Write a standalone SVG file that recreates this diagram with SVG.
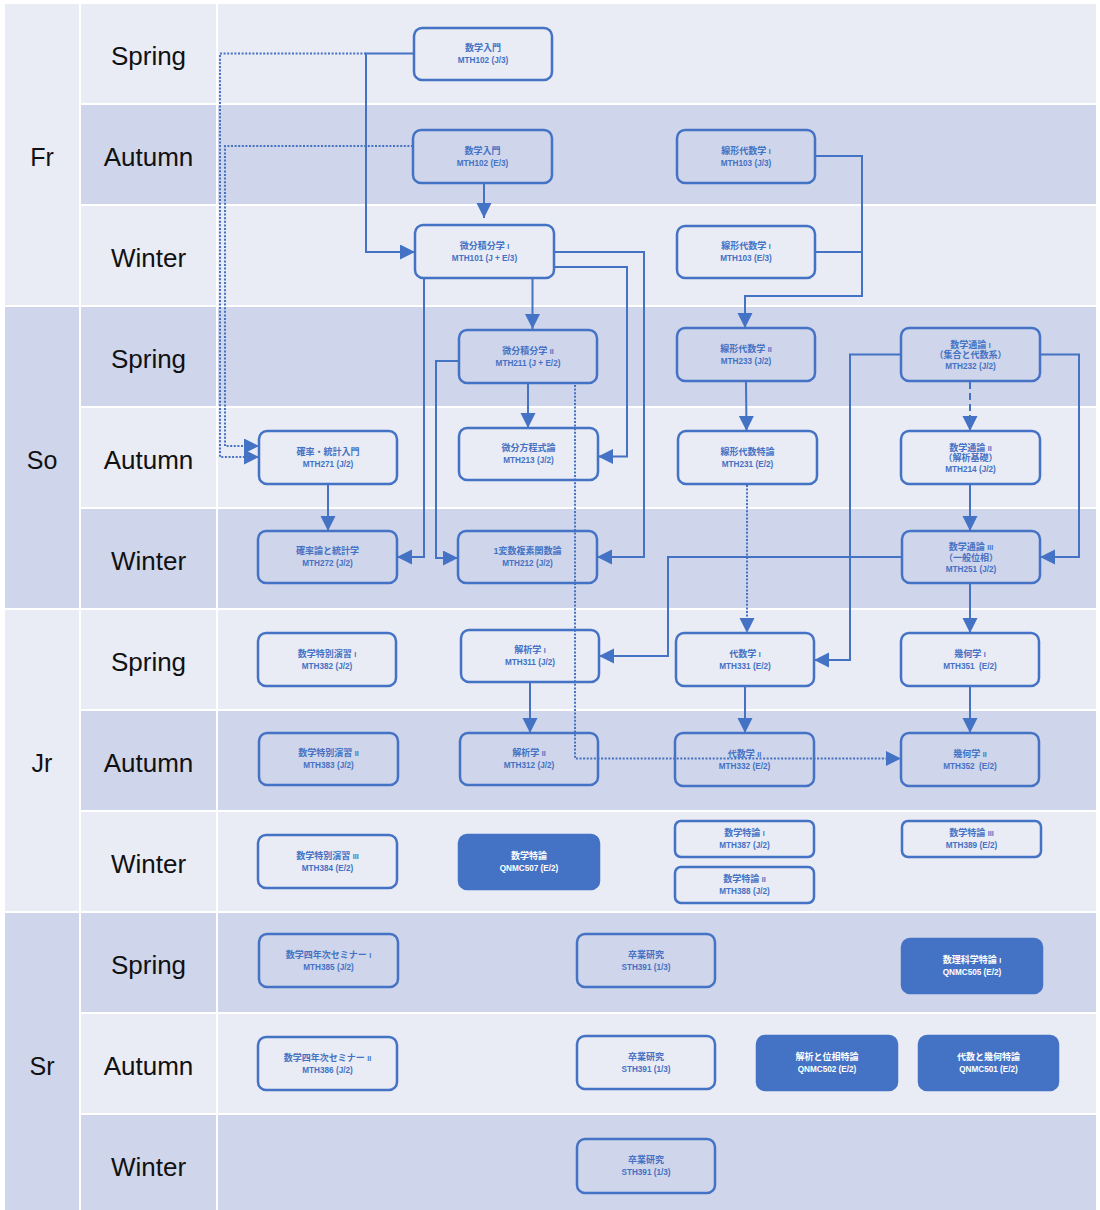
<svg xmlns="http://www.w3.org/2000/svg" width="1100" height="1210" viewBox="0 0 1100 1210">
<style>
.lt{fill:#E9EBF5}
.dk{fill:#CFD5EA}
.lbl{font-family:"Liberation Sans","Noto Sans",sans-serif;font-size:26px;fill:#111;text-anchor:middle}
.yr{font-size:25px}
.nd rect{fill:none;stroke:#4472C4;stroke-width:2.5}
.nf rect{fill:#4472C4;stroke:#4472C4;stroke-width:2.5}
.nd text,.nf text{font-family:"Liberation Sans","Noto Sans CJK JP",sans-serif;font-weight:bold;text-anchor:middle}
.nd text{fill:#4472C4}
.nf text{fill:#FFFFFF}
.t{font-size:9px}
.c{font-size:8.2px}
.rn{font-size:7px}
.cn{fill:none;stroke:#4472C4;stroke-width:2;marker-end:url(#ah)}
.nm{marker-end:none}
.dot{stroke-dasharray:2 1.6}
.dash{stroke-dasharray:7 4}
</style>
<defs>
<marker id="ah" markerWidth="16" markerHeight="16" refX="15" refY="7.5" orient="auto" markerUnits="userSpaceOnUse">
<path d="M0,0 L15,7.5 L0,15 z" fill="#4472C4"/>
</marker>
</defs>
<rect width="1100" height="1210" fill="#FFFFFF"/>
<g id="grid">
<rect class="lt" x="5" y="4" width="74" height="301"/>
<rect class="dk" x="5" y="307" width="74" height="301"/>
<rect class="lt" x="5" y="610" width="74" height="301"/>
<rect class="dk" x="5" y="913" width="74" height="297"/>
<rect class="lt" x="81" y="4" width="135" height="99"/><rect class="lt" x="218" y="4" width="878" height="99"/>
<rect class="dk" x="81" y="105" width="135" height="99"/><rect class="dk" x="218" y="105" width="878" height="99"/>
<rect class="lt" x="81" y="206" width="135" height="99"/><rect class="lt" x="218" y="206" width="878" height="99"/>
<rect class="dk" x="81" y="307" width="135" height="99"/><rect class="dk" x="218" y="307" width="878" height="99"/>
<rect class="lt" x="81" y="408" width="135" height="99"/><rect class="lt" x="218" y="408" width="878" height="99"/>
<rect class="dk" x="81" y="509" width="135" height="99"/><rect class="dk" x="218" y="509" width="878" height="99"/>
<rect class="lt" x="81" y="610" width="135" height="99"/><rect class="lt" x="218" y="610" width="878" height="99"/>
<rect class="dk" x="81" y="711" width="135" height="99"/><rect class="dk" x="218" y="711" width="878" height="99"/>
<rect class="lt" x="81" y="812" width="135" height="99"/><rect class="lt" x="218" y="812" width="878" height="99"/>
<rect class="dk" x="81" y="913" width="135" height="99"/><rect class="dk" x="218" y="913" width="878" height="99"/>
<rect class="lt" x="81" y="1014" width="135" height="99"/><rect class="lt" x="218" y="1014" width="878" height="99"/>
<rect class="dk" x="81" y="1115" width="135" height="95"/><rect class="dk" x="218" y="1115" width="878" height="95"/>
<text class="lbl yr" x="42" y="166">Fr</text>
<text class="lbl yr" x="42" y="469">So</text>
<text class="lbl yr" x="42" y="772">Jr</text>
<text class="lbl yr" x="42" y="1075">Sr</text>
<text class="lbl" x="148.5" y="65">Spring</text>
<text class="lbl" x="148.5" y="166">Autumn</text>
<text class="lbl" x="148.5" y="267">Winter</text>
<text class="lbl" x="148.5" y="368">Spring</text>
<text class="lbl" x="148.5" y="469">Autumn</text>
<text class="lbl" x="148.5" y="570">Winter</text>
<text class="lbl" x="148.5" y="671">Spring</text>
<text class="lbl" x="148.5" y="772">Autumn</text>
<text class="lbl" x="148.5" y="873">Winter</text>
<text class="lbl" x="148.5" y="974">Spring</text>
<text class="lbl" x="148.5" y="1075">Autumn</text>
<text class="lbl" x="148.5" y="1176">Winter</text>
</g>
<g id="connectors">
<polyline class="cn" points="414,53.5 366,53.5 366,252 415,252"/>
<polyline class="cn dot" points="366,53.5 220,53.5 220,457 259,457"/>
<polyline class="cn dot" points="413,146 225,146 225,446 259,446"/>
<polyline class="cn" points="484,183 484,218"/>
<polyline class="cn" points="554,252 644,252 644,557 597,557"/>
<polyline class="cn" points="554,267 627,267 627,456.5 598,456.5"/>
<polyline class="cn" points="424,278 424,557 397,557"/>
<polyline class="cn" points="532.5,278 532.5,329"/>
<polyline class="cn" points="459,361 436,361 436,558 458,558"/>
<polyline class="cn" points="528,383 528,428"/>
<polyline class="cn dot" points="575,385 575,758.5 901,758.5"/>
<polyline class="cn" points="815,156 862,156 862,296 745,296 745,328"/>
<polyline class="cn nm" points="815,252 862,252"/>
<polyline class="cn" points="746,381 746.5,431"/>
<polyline class="cn dot" points="747,485 747,633"/>
<polyline class="cn" points="1040,354.5 1079,354.5 1079,557 1040,557"/>
<polyline class="cn" points="901,354.5 850,354.5 850,660 814,660"/>
<polyline class="cn dash" points="970,382 970,431"/>
<polyline class="cn" points="970,484 970,531"/>
<polyline class="cn" points="902,557 668,557 668,656 599,656"/>
<polyline class="cn" points="970,583 970,633"/>
<polyline class="cn" points="328,484 328,531"/>
<polyline class="cn" points="530,682 530,733"/>
<polyline class="cn" points="745,686 745,733"/>
<polyline class="cn" points="970,686 970,733"/>
</g>
<g id="n1" class="nd"><rect x="414" y="28" width="138" height="52" rx="8"/><text class="t" x="483" y="51">数学入門</text><text class="c" x="483" y="63">MTH102 (J/3)</text></g>
<g id="n2" class="nd"><rect x="413" y="130" width="139" height="53" rx="8"/><text class="t" x="482.5" y="153.5">数学入門</text><text class="c" x="482.5" y="165.5">MTH102 (E/3)</text></g>
<g id="n3" class="nd"><rect x="677" y="130" width="138" height="53" rx="8"/><text class="t" x="746" y="153.5">線形代数学 <tspan class="rn">I</tspan></text><text class="c" x="746" y="165.5">MTH103 (J/3)</text></g>
<g id="n4" class="nd"><rect x="415" y="225" width="139" height="53" rx="8"/><text class="t" x="484.5" y="248.5">微分積分学 <tspan class="rn">I</tspan></text><text class="c" x="484.5" y="260.5">MTH101 (J + E/3)</text></g>
<g id="n5" class="nd"><rect x="677" y="226" width="138" height="52" rx="8"/><text class="t" x="746" y="249">線形代数学 <tspan class="rn">I</tspan></text><text class="c" x="746" y="261">MTH103 (E/3)</text></g>
<g id="n6" class="nd"><rect x="459" y="330" width="138" height="53" rx="8"/><text class="t" x="528" y="353.5">微分積分学 <tspan class="rn">II</tspan></text><text class="c" x="528" y="365.5">MTH211 (J + E/2)</text></g>
<g id="n7" class="nd"><rect x="677" y="328" width="138" height="53" rx="8"/><text class="t" x="746" y="351.5">線形代数学 <tspan class="rn">II</tspan></text><text class="c" x="746" y="363.5">MTH233 (J/2)</text></g>
<g id="n8" class="nd"><rect x="901" y="328" width="139" height="53" rx="8"/><text class="t" x="970.5" y="347.5">数学通論 <tspan class="rn">I</tspan></text><text class="t" x="970.5" y="358">（集合と代数系）</text><text class="c" x="970.5" y="369">MTH232 (J/2)</text></g>
<g id="n9" class="nd"><rect x="259" y="431" width="138" height="53" rx="8"/><text class="t" x="328" y="454.5">確率・統計入門</text><text class="c" x="328" y="466.5">MTH271 (J/2)</text></g>
<g id="n10" class="nd"><rect x="459" y="428" width="139" height="52" rx="8"/><text class="t" x="528.5" y="451">微分方程式論</text><text class="c" x="528.5" y="463">MTH213 (J/2)</text></g>
<g id="n11" class="nd"><rect x="678" y="431" width="139" height="53" rx="8"/><text class="t" x="747.5" y="454.5">線形代数特論</text><text class="c" x="747.5" y="466.5">MTH231 (E/2)</text></g>
<g id="n12" class="nd"><rect x="901" y="431" width="139" height="53" rx="8"/><text class="t" x="970.5" y="450.5">数学通論 <tspan class="rn">II</tspan></text><text class="t" x="970.5" y="461">（解析基礎）</text><text class="c" x="970.5" y="472">MTH214 (J/2)</text></g>
<g id="n13" class="nd"><rect x="258" y="531" width="139" height="52" rx="8"/><text class="t" x="327.5" y="554">確率論と統計学</text><text class="c" x="327.5" y="566">MTH272 (J/2)</text></g>
<g id="n14" class="nd"><rect x="458" y="531" width="139" height="52" rx="8"/><text class="t" x="527.5" y="554">1変数複素関数論</text><text class="c" x="527.5" y="566">MTH212 (J/2)</text></g>
<g id="n15" class="nd"><rect x="902" y="531" width="138" height="52" rx="8"/><text class="t" x="971" y="550">数学通論 <tspan class="rn">III</tspan></text><text class="t" x="971" y="560.5">（一般位相）</text><text class="c" x="971" y="571.5">MTH251 (J/2)</text></g>
<g id="n16" class="nd"><rect x="258" y="633" width="138" height="53" rx="8"/><text class="t" x="327" y="656.5">数学特別演習 <tspan class="rn">I</tspan></text><text class="c" x="327" y="668.5">MTH382 (J/2)</text></g>
<g id="n17" class="nd"><rect x="461" y="630" width="138" height="52" rx="8"/><text class="t" x="530" y="653">解析学 <tspan class="rn">I</tspan></text><text class="c" x="530" y="665">MTH311 (J/2)</text></g>
<g id="n18" class="nd"><rect x="676" y="633" width="138" height="53" rx="8"/><text class="t" x="745" y="656.5">代数学 <tspan class="rn">I</tspan></text><text class="c" x="745" y="668.5">MTH331 (E/2)</text></g>
<g id="n19" class="nd"><rect x="901" y="633" width="138" height="53" rx="8"/><text class="t" x="970" y="656.5">幾何学 <tspan class="rn">I</tspan></text><text class="c" x="970" y="668.5" xml:space="preserve">MTH351  (E/2)</text></g>
<g id="n20" class="nd"><rect x="259" y="733" width="139" height="52" rx="8"/><text class="t" x="328.5" y="756">数学特別演習 <tspan class="rn">II</tspan></text><text class="c" x="328.5" y="768">MTH383 (J/2)</text></g>
<g id="n21" class="nd"><rect x="460" y="733" width="138" height="52" rx="8"/><text class="t" x="529" y="756">解析学 <tspan class="rn">II</tspan></text><text class="c" x="529" y="768">MTH312 (J/2)</text></g>
<g id="n22" class="nd"><rect x="675" y="733" width="139" height="53" rx="8"/><text class="t" x="744.5" y="756.5">代数学 <tspan class="rn">II</tspan></text><text class="c" x="744.5" y="768.5">MTH332 (E/2)</text></g>
<g id="n23" class="nd"><rect x="901" y="733" width="138" height="53" rx="8"/><text class="t" x="970" y="756.5">幾何学 <tspan class="rn">II</tspan></text><text class="c" x="970" y="768.5" xml:space="preserve">MTH352  (E/2)</text></g>
<g id="n24" class="nd"><rect x="258" y="835" width="139" height="53" rx="8"/><text class="t" x="327.5" y="858.5">数学特別演習 <tspan class="rn">III</tspan></text><text class="c" x="327.5" y="870.5">MTH384 (E/2)</text></g>
<g id="n25" class="nf"><rect x="459" y="835" width="140" height="54" rx="8"/><text class="t" x="529" y="859">数学特論</text><text class="c" x="529" y="871">QNMC507 (E/2)</text></g>
<g id="n26" class="nd"><rect x="675" y="821" width="139" height="36" rx="6"/><text class="t" x="744.5" y="836">数学特論 <tspan class="rn">I</tspan></text><text class="c" x="744.5" y="848">MTH387 (J/2)</text></g>
<g id="n27" class="nd"><rect x="675" y="867" width="139" height="36" rx="6"/><text class="t" x="744.5" y="882">数学特論 <tspan class="rn">II</tspan></text><text class="c" x="744.5" y="894">MTH388 (J/2)</text></g>
<g id="n28" class="nd"><rect x="902" y="821" width="139" height="36" rx="6"/><text class="t" x="971.5" y="836">数学特論 <tspan class="rn">III</tspan></text><text class="c" x="971.5" y="848">MTH389 (E/2)</text></g>
<g id="n29" class="nd"><rect x="259" y="934" width="139" height="53" rx="8"/><text class="t" x="328.5" y="957.5">数学四年次セミナー <tspan class="rn">I</tspan></text><text class="c" x="328.5" y="969.5">MTH385 (J/2)</text></g>
<g id="n30" class="nd"><rect x="577" y="934" width="138" height="53" rx="8"/><text class="t" x="646" y="957.5">卒業研究</text><text class="c" x="646" y="969.5">STH391 (1/3)</text></g>
<g id="n31" class="nf"><rect x="902" y="939" width="140" height="54" rx="8"/><text class="t" x="972" y="963">数理科学特論 <tspan class="rn">I</tspan></text><text class="c" x="972" y="975">QNMC505 (E/2)</text></g>
<g id="n32" class="nd"><rect x="258" y="1037" width="139" height="53" rx="8"/><text class="t" x="327.5" y="1060.5">数学四年次セミナー <tspan class="rn">II</tspan></text><text class="c" x="327.5" y="1072.5">MTH386 (J/2)</text></g>
<g id="n33" class="nd"><rect x="577" y="1036" width="138" height="53" rx="8"/><text class="t" x="646" y="1059.5">卒業研究</text><text class="c" x="646" y="1071.5">STH391 (1/3)</text></g>
<g id="n34" class="nf"><rect x="757" y="1036" width="140" height="54" rx="8"/><text class="t" x="827" y="1060">解析と位相特論</text><text class="c" x="827" y="1072">QNMC502 (E/2)</text></g>
<g id="n35" class="nf"><rect x="919" y="1036" width="139" height="54" rx="8"/><text class="t" x="988.5" y="1060">代数と幾何特論</text><text class="c" x="988.5" y="1072">QNMC501 (E/2)</text></g>
<g id="n36" class="nd"><rect x="577" y="1139" width="138" height="54" rx="8"/><text class="t" x="646" y="1163">卒業研究</text><text class="c" x="646" y="1175">STH391 (1/3)</text></g>
</svg>
